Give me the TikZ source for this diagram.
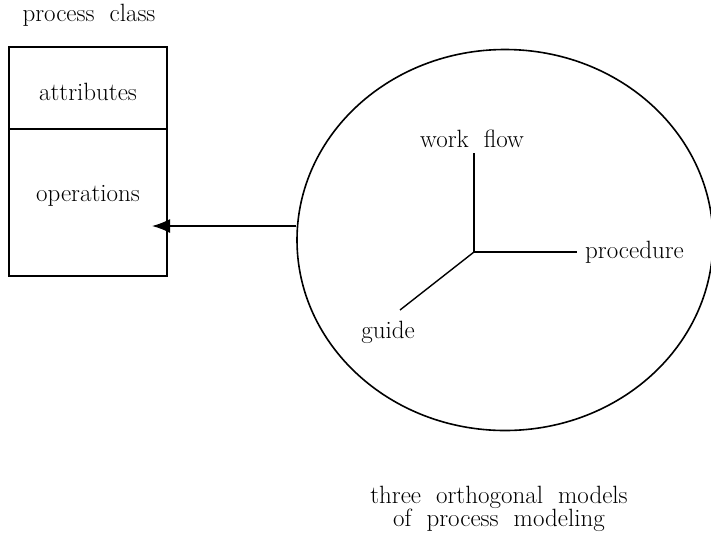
\documentclass[tikz,border=0pt]{standalone}
\usetikzlibrary{arrows.meta,shapes.geometric}
\begin{document}
\begin{tikzpicture}[x=1pt,y=-1pt,
  lbl/.style={font=\fontsize{25}{20}\selectfont, inner sep=0pt},
  ln/.style={line width=1.6pt},
  axis/.style={line width=1.4pt}]
\useasboundingbox (0,0) rectangle (711,536);
% class box
\node[lbl] (title) at (89,15) {process\ \ class};
\draw[ln] (9,47) rectangle (167,276);
\draw[ln] (9,129) -- (167,129);
\coordinate (boxin) at (152,226);
\node[lbl] (attr) at (88,92) {attributes};
\node[lbl] (ops) at (88,196) {operations};
% model circle
\node[draw, ln, ellipse, minimum width=416pt, minimum height=381pt, inner sep=0pt] (model) at (505,240) {};
\draw[ln, -{Latex[length=18pt,width=14pt]}] (model.west |- boxin) -- (boxin);
% axes
\coordinate (o) at (474,252);
\coordinate (up) at (474,153);
\coordinate (rt) at (577,252);
\coordinate (dl) at (400,310);
\draw[axis] (o) -- (up);
\draw[axis] (o) -- (rt);
\draw[axis] (o) -- (dl);
\node[lbl] (wf) at (472,139) {work\ \ f{}low};
\node[lbl, anchor=west] (proc) at (585,252) {procedure};
\node[lbl] (guide) at (388,332) {guide};
% caption
\node[lbl, align=center] (cap) at (499,509) {three\ \ orthogonal\ \ models\\[-1pt]of\ \ process\ \ modeling};
\end{tikzpicture}
\end{document}
